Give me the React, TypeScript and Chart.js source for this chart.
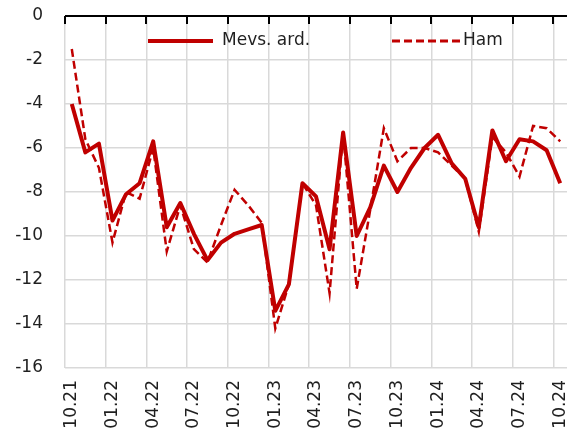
import React, { useEffect, useRef } from 'react';
import { Chart, registerables } from 'chart.js';

Chart.register(...registerables);

const months = [
  '10.21', '11.21', '12.21', '01.22', '02.22', '03.22', '04.22', '05.22', '06.22', '07.22', '08.22', '09.22',
  '10.22', '11.22', '12.22', '01.23', '02.23', '03.23', '04.23', '05.23', '06.23', '07.23', '08.23', '09.23',
  '10.23', '11.23', '12.23', '01.24', '02.24', '03.24', '04.24', '05.24', '06.24', '07.24', '08.24', '09.24',
  '10.24',
];

const mevsArd = [
  -4.0, -6.2, -5.8, -9.3, -8.1, -7.6, -5.7, -9.6, -8.5, -9.9, -11.1, -10.3,
  -9.9, -9.7, -9.5, -13.4, -12.2, -7.6, -8.2, -10.6, -5.3, -10.0, -8.7, -6.8,
  -8.0, -6.9, -6.0, -5.4, -6.7, -7.4, -9.6, -5.2, -6.6, -5.6, -5.7, -6.1,
  -7.6,
];

const ham = [
  -1.5, -5.6, -6.9, -10.3, -8.0, -8.3, -6.0, -10.7, -8.6, -10.6, -11.2, -9.5,
  -7.9, -8.6, -9.4, -14.2, -12.2, -7.6, -8.6, -12.6, -5.3, -12.4, -8.8, -5.1,
  -6.6, -6.0, -6.0, -6.2, -6.8, -7.4, -9.8, -5.5, -6.2, -7.3, -5.0, -5.1,
  -5.7,
];

const seriesNames = ['Mevs. ard.', 'Ham'];
const yMin = -16;
const yMax = 0;
const yStep = 2;
const labelEvery = 3;

const FONT = 'DejaVu Sans';
const TEXT = '#1f1f1f';
const RED = '#C00000';
const GRID = '#d9d9d9';

const overlay = {
  id: 'overlay',
  afterDraw(chart: any) {
    const { ctx, chartArea, scales } = chart;
    const xs = scales.x;
    const ys = scales.y;
    const y0 = ys.getPixelForValue(0);
    ctx.save();
    ctx.strokeStyle = '#000';
    ctx.lineWidth = 2;
    ctx.beginPath();
    ctx.moveTo(chartArea.left, y0);
    ctx.lineTo(chartArea.right, y0);
    ctx.stroke();
    const half = (xs.getPixelForValue(1) - xs.getPixelForValue(0)) / 2;
    ctx.beginPath();
    for (let i = 0; i < months.length; i += labelEvery) {
      const px = Math.round(xs.getPixelForValue(i) - half);
      ctx.moveTo(px, y0);
      ctx.lineTo(px, y0 + 8);
    }
    ctx.stroke();

    const ly = chartArea.top + 25;
    const items = [
      { x0: chartArea.left + 83, x1: chartArea.left + 148, tx: chartArea.left + 157 },
      { x0: chartArea.left + 327, x1: chartArea.left + 395, tx: chartArea.left + 398 },
    ];
    chart.data.datasets.forEach((ds: any, i: number) => {
      const it = items[i];
      ctx.strokeStyle = ds.borderColor;
      ctx.lineWidth = i === 0 ? 4 : 3;
      ctx.setLineDash(ds.borderDash || []);
      ctx.beginPath();
      ctx.moveTo(it.x0, ly);
      ctx.lineTo(it.x1, ly);
      ctx.stroke();
      ctx.setLineDash([]);
      ctx.fillStyle = TEXT;
      ctx.font = `17px "${FONT}"`;
      ctx.textAlign = 'left';
      ctx.textBaseline = 'middle';
      ctx.fillText(ds.label, it.tx, ly);
    });
    ctx.restore();
  },
};

const zeroPad = (s: any) => {
  s.paddingTop = 0;
  s.paddingBottom = 0;
  s.paddingLeft = 0;
  s.paddingRight = 0;
};

export default function App() {
  const ref = useRef<HTMLCanvasElement | null>(null);
  useEffect(() => {
    if (!ref.current) return;
    const chart = new Chart(ref.current, {
      type: 'line',
      data: {
        labels: months,
        datasets: [
          {
            label: seriesNames[0],
            data: mevsArd,
            borderColor: RED,
            backgroundColor: RED,
            borderWidth: 4,
            pointRadius: 0,
            tension: 0,
            borderJoinStyle: 'round',
          },
          {
            label: seriesNames[1],
            data: ham,
            borderColor: RED,
            backgroundColor: RED,
            borderWidth: 2.5,
            borderDash: [8, 4],
            pointRadius: 0,
            tension: 0,
          },
        ],
      },
      options: {
        animation: false,
        responsive: true,
        maintainAspectRatio: false,
        layout: { padding: { top: 16, right: 1, left: 0, bottom: 0 } },
        plugins: {
          legend: { display: false },
          tooltip: { enabled: false },
        },
        scales: {
          x: {
            type: 'category',
            offset: true,
            border: { display: false },
            grid: {
              offset: true,
              drawTicks: false,
              lineWidth: 1.5,
              color: (c: any) => (c.index % labelEvery === 0 && c.index < months.length ? GRID : 'rgba(0,0,0,0)'),
            },
            ticks: {
              autoSkip: false,
              maxRotation: 90,
              minRotation: 90,
              padding: 12,
              color: TEXT,
              font: { family: FONT, size: 17 },
              callback: (_v: any, i: number) => (i % labelEvery === 0 ? months[i] : ''),
            },
            afterFit: (s: any) => {
              s.height = 60;
              zeroPad(s);
            },
          },
          y: {
            min: yMin,
            max: yMax,
            border: { display: false },
            grid: {
              drawTicks: false,
              lineWidth: 1.5,
              color: (c: any) => (c.tick && c.tick.value === 0 ? 'rgba(0,0,0,0)' : GRID),
            },
            ticks: {
              stepSize: yStep,
              padding: 22,
              color: TEXT,
              font: { family: FONT, size: 17 },
            },
            afterFit: (s: any) => {
              s.width = 65;
              zeroPad(s);
            },
          },
        },
      },
      plugins: [overlay],
    });
    return () => chart.destroy();
  }, []);
  return (
    <div style={{ position: 'fixed', left: 0, top: 0, width: 568, height: 428, background: '#fff' }}>
      <canvas ref={ref} />
    </div>
  );
}
